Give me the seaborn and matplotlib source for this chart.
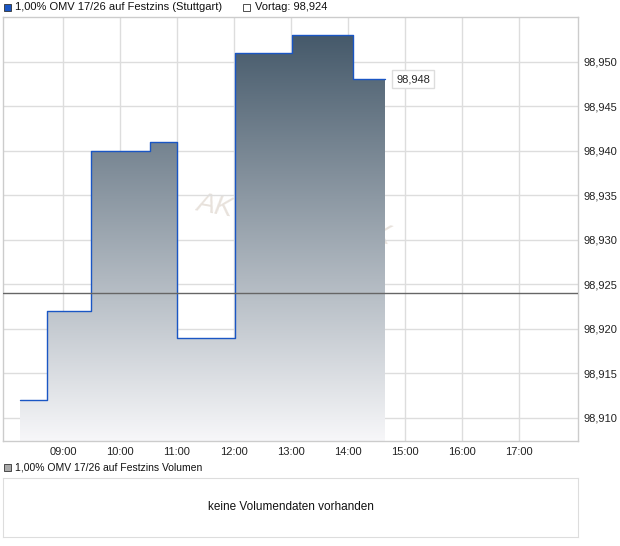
import numpy as np
import pandas as pd
import matplotlib
matplotlib.use("Agg")
import matplotlib.pyplot as plt
import seaborn as sns
from matplotlib.patches import Rectangle
from matplotlib.colors import LinearSegmentedColormap

# intraday trades (Stuttgart)
times = ["08:15", "08:43", "09:30", "10:32", "11:00", "12:01", "13:01", "14:05", "14:39"]
prices = [98.912, 98.922, 98.940, 98.941, 98.919, 98.951, 98.953, 98.948, 98.948]
prev_close = 98.924
hour_ticks = [9, 10, 11, 12, 13, 14, 15, 16, 17]
price_ticks = [98.910, 98.915, 98.920, 98.925, 98.930, 98.935, 98.940, 98.945, 98.950]

def to_hours(t):
    h, m = t.split(":")
    return int(h) + int(m) / 60

df = pd.DataFrame({"time": [to_hours(t) for t in times], "price": prices})

sns.set_style("white")
plt.rcParams["font.family"] = ["Liberation Sans", "DejaVu Sans"]

W, H = 620, 546
fig = plt.figure(figsize=(W / 100, H / 100), dpi=100)
ax = fig.add_axes([3 / W, (H - 441) / H, 575 / W, 424 / H])

ymin, ymax = 98.9074, 98.955
xmin, xmax = 7.95, 18.03

# watermark
ax.text(13.05, 98.9322, "AKTIENCHECK", fontsize=20, style="italic", color="#e8e2dc",
        ha="center", va="center", rotation=-10, zorder=0)

# gradient fill under the step line
poly = ax.fill_between(df["time"], df["price"], ymin, step="post", color="none", lw=0)
cmap = LinearSegmentedColormap.from_list("g", ["#f7f7f9", "#45596a"])
grad = np.linspace(0, 1, 256).reshape(-1, 1)
top = df["price"].max()
im = ax.imshow(grad, cmap=cmap, aspect="auto", origin="lower",
               extent=[xmin, xmax, ymin, top], zorder=1)
path = poly.get_paths()[0]
im.set_clip_path(path, transform=ax.transData)

sns.lineplot(data=df, x="time", y="price", drawstyle="steps-post", color="#1a56c4",
             lw=1.0, ax=ax, zorder=3)

ax.axhline(prev_close, color="#666666", lw=1, zorder=4)

ax.set_xlim(xmin, xmax)
ax.set_ylim(ymin, ymax)
ax.set_xticks(hour_ticks)
ax.set_xticklabels([f"{h:02d}:00" for h in hour_ticks])
ax.set_yticks(price_ticks)
ax.set_yticklabels([f"{v:.3f}".replace(".", ",") for v in price_ticks])
ax.yaxis.tick_right()
ax.tick_params(axis="both", length=0, labelsize=8, colors="#222222")
ax.tick_params(axis="y", pad=4)
ax.tick_params(axis="x", pad=4)
ax.grid(True, color="#dddddd", lw=1)
ax.set_axisbelow(True)
ax.set_xlabel("")
ax.set_ylabel("")
for s in ax.spines.values():
    s.set_color("#cccccc")
    s.set_linewidth(1)

# last price label
last = df.iloc[-1]
ax.annotate(f"{last['price']:.3f}".replace(".", ","), xy=(last["time"], last["price"]),
            xytext=(8, 0), textcoords="offset points", fontsize=8, va="center", ha="left",
            bbox=dict(boxstyle="square,pad=0.35", fc="white", ec="#dddddd", lw=1), zorder=5)

# header legend
fig.patches.append(Rectangle((4 / W, 1 - 11 / H), 7 / W, 7 / H, transform=fig.transFigure,
                             fc="#1a56c4", ec="#333333", lw=0.6))
fig.text(15 / W, 1 - 7 / H, "1,00% OMV 17/26 auf Festzins (Stuttgart)", fontsize=8,
         va="center", ha="left", color="#111111")
fig.patches.append(Rectangle((243 / W, 1 - 11 / H), 7 / W, 7 / H, transform=fig.transFigure,
                             fc="white", ec="#333333", lw=0.6))
fig.text(255 / W, 1 - 7 / H, "Vortag: 98,924", fontsize=8, va="center", ha="left", color="#111111")

# volume panel
fig.patches.append(Rectangle((4 / W, 1 - 471 / H), 7 / W, 7 / H, transform=fig.transFigure,
                             fc="#aaaaaa", ec="#333333", lw=0.6))
fig.text(15 / W, 1 - 467 / H, "1,00% OMV 17/26 auf Festzins Volumen", fontsize=7.5,
         va="center", ha="left", color="#111111")
ax2 = fig.add_axes([3 / W, (H - 537) / H, 575 / W, 59 / H])
ax2.set_xticks([])
ax2.set_yticks([])
for s in ax2.spines.values():
    s.set_color("#dddddd")
ax2.text(0.5, 0.5, "keine Volumendaten vorhanden", fontsize=8.5, ha="center", va="center",
         transform=ax2.transAxes, color="#111111")

fig.savefig("out.png", dpi=100)
